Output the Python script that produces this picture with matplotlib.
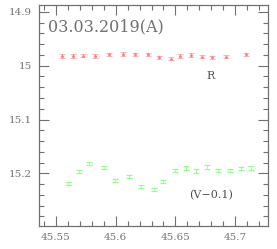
import matplotlib
matplotlib.use("Agg")
import matplotlib.pyplot as plt
from matplotlib.ticker import MultipleLocator

# R band
r_x = [45.555, 45.564, 45.573, 45.583, 45.594, 45.606, 45.616, 45.627,
       45.636, 45.646, 45.654, 45.663, 45.672, 45.681, 45.692, 45.709]
r_y = [14.982, 14.982, 14.981, 14.982, 14.979, 14.978, 14.979, 14.979,
       14.984, 14.987, 14.982, 14.980, 14.983, 14.984, 14.983, 14.979]
r_err = [0.003] * len(r_x)

# V band shifted by -0.1
v_x = [45.5598, 45.5689, 45.5778, 45.5898, 45.5994, 45.6108, 45.6208, 45.6317,
       45.6400, 45.6496, 45.6592, 45.6675, 45.6767, 45.6858, 45.6958, 45.7046, 45.7129]
v_y = [15.2188, 15.1972, 15.1816, 15.1893, 15.2137, 15.2060, 15.2250, 15.2306,
       15.2156, 15.1947, 15.1902, 15.1959, 15.1884, 15.1947, 15.1947, 15.1910, 15.1901]
v_err = [0.003] * len(v_x)

grey = "#707070"
fig = plt.figure(figsize=(2.77, 2.49), dpi=100)
ax = fig.add_axes([0.1408, 0.0924, 0.8267, 0.8876])

ax.errorbar(r_x, r_y, yerr=r_err, fmt="*", color="#ff8080", ms=2.5,
            mew=0.4, elinewidth=0.6, capsize=2.5, capthick=0.7)
ax.errorbar(v_x, v_y, yerr=v_err, fmt="none", ecolor="#90ff90",
            elinewidth=0.6, capsize=2.5, capthick=0.9)

ax.set_xlim(45.5358, 45.7275)
ax.set_ylim(15.298, 14.887)

ax.xaxis.set_major_locator(MultipleLocator(0.05))
ax.xaxis.set_minor_locator(MultipleLocator(0.01))
ax.yaxis.set_major_locator(MultipleLocator(0.1))
ax.yaxis.set_minor_locator(MultipleLocator(0.02))
ax.xaxis.set_major_formatter(plt.FuncFormatter(lambda v, p: f"{v:g}"))
ax.yaxis.set_major_formatter(plt.FuncFormatter(lambda v, p: f"{round(v, 2):g}"))

ax.tick_params(which="both", direction="in", top=True, right=True,
               color=grey, labelcolor=grey, labelsize=7.5, width=0.8)
ax.tick_params(which="major", length=7, pad=5)
ax.tick_params(which="minor", length=3.5)
for s in ax.spines.values():
    s.set_color(grey)
    s.set_linewidth(0.9)
for lab in ax.get_xticklabels() + ax.get_yticklabels():
    lab.set_family("DejaVu Serif")

ax.text(45.5433, 14.927, "03.03.2019(A)", color=grey, fontsize=11.5,
        family="DejaVu Serif", va="center", ha="left")
ax.text(45.6796, 15.02, "R", color="#505050", fontsize=8,
        family="DejaVu Serif", ha="center", va="center")
ax.text(45.6796, 15.241, "(V\u22120.1)", color="#505050", fontsize=8,
        family="DejaVu Serif", ha="center", va="center")

fig.savefig("out.png", dpi=100)
